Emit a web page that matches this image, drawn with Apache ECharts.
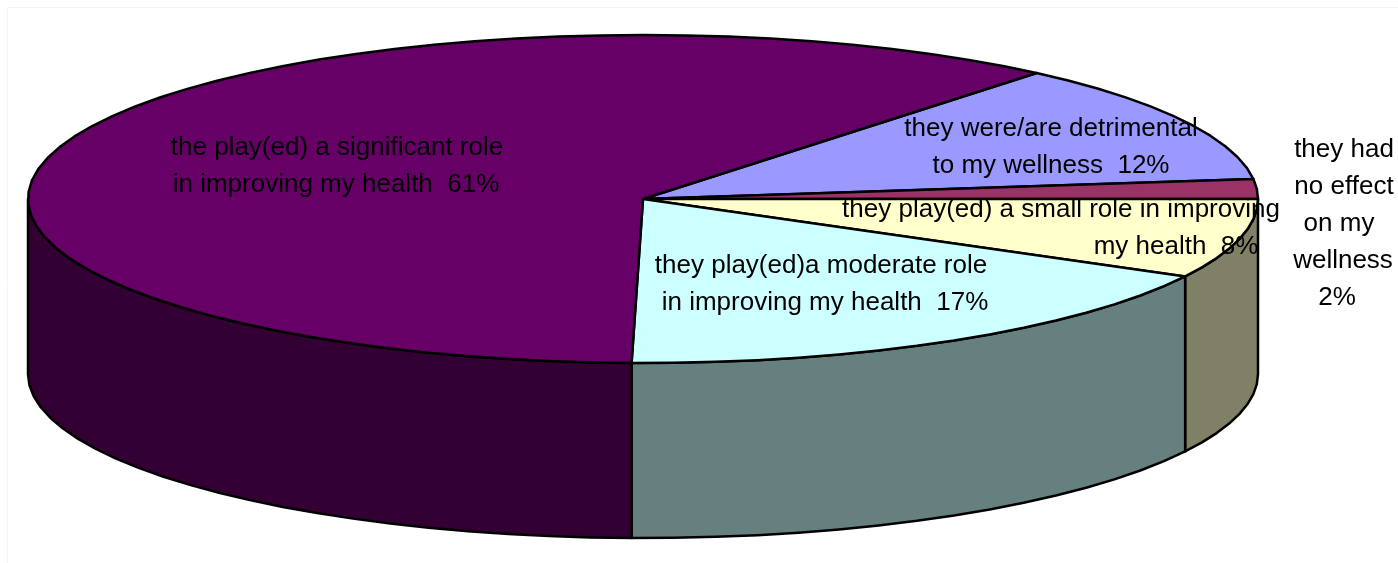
<!DOCTYPE html>
<html lang="en">
<head>
	<meta charset="UTF-8">
	<title>Role in wellness</title>
	<style>
		html, body { margin: 0; padding: 0; background: #fff; }
	</style>
</head>
<body>
	<div id="main" style="width: 1398px;height:563px;"></div>
	<script src="https://cdn.jsdelivr.net/npm/echarts@6/dist/echarts.min.js"></script>
	<script>
		// slices, clockwise from the upper right edge of the disc
		var categories = [
			"they were/are detrimental\nto my wellness  12%",
			"they had\nno effect\non my\nwellness\n2%",
			"they play(ed) a small role in improving\nmy health  8%",
			"they play(ed)a moderate role\nin improving my health  17%",
			"the play(ed) a significant role\nin improving my health  61%"
		];
		// percentages
		var shares = [12.0, 1.94, 7.83, 17.47, 60.76];
		var topColors = ["#9999FF", "#993366", "#FFFFCC", "#CCFFFF", "#660066"];
		var sideColors = ["#4D4D80", "#4D1A33", "#808066", "#668080", "#330033"];

		// label lines are placed one by one, the source does not centre them all
		var labelX = [
			[1051, 1051],
			[1344, 1344, 1339, 1343, 1337],
			[1061, 1176],
			[821, 825],
			[337, 336]
		];
		var labelY = [129, 150, 210, 266, 148];
		var lineGap = 37;

		// disc geometry
		var cx = 643, cy = 199, rx = 615, ry = 164, depth = 175;
		var startAngle = 50.2;

		function toXY(deg, dy) {
			var r = deg * Math.PI / 180;
			return [cx + rx * Math.cos(r), cy - ry * Math.sin(r) + (dy || 0)];
		}

		function sliceRange(i) {
			var before = 0;
			for (var k = 0; k < i; k++) before += shares[k];
			var a1 = startAngle - before * 3.6;
			return [a1, a1 - shares[i] * 3.6];
		}

		// the original outline is faceted, so keep the arc steps coarse
		function arcPoints(from, to, dy) {
			var pts = [];
			var n = Math.max(1, Math.ceil(Math.abs(from - to) / 4));
			for (var j = 0; j <= n; j++) {
				pts.push(toXY(from + (to - from) * j / n, dy));
			}
			return pts;
		}

		function renderSide(params, api) {
			var range = sliceRange(params.dataIndex);
			// only the front half of the rim shows
			var hi = Math.min(range[0], 0);
			var lo = Math.max(range[1], -180);
			if (hi <= lo) return null;
			var pts = arcPoints(hi, lo, 0).concat(arcPoints(lo, hi, depth));
			return {
				type: 'polygon',
				shape: { points: pts },
				style: { fill: sideColors[params.dataIndex], stroke: '#000', lineWidth: 2.5, lineJoin: 'round' }
			};
		}

		function renderTop(params, api) {
			var range = sliceRange(params.dataIndex);
			var pts = [[cx, cy]].concat(arcPoints(range[0], range[1], 0));
			return {
				type: 'polygon',
				shape: { points: pts },
				style: { fill: topColors[params.dataIndex], stroke: '#000', lineWidth: 2.5, lineJoin: 'round' }
			};
		}

		function renderLabel(params, api) {
			var i = params.dataIndex;
			var lines = categories[i].split('\n');
			return {
				type: 'group',
				children: lines.map(function (line, n) {
					return {
						type: 'text',
						x: labelX[i][n],
						y: labelY[i] + n * lineGap,
						style: {
							text: line,
							fill: '#000',
							font: '26px "Liberation Sans", Arial, sans-serif',
							align: 'center',
							verticalAlign: 'middle'
						}
					};
				})
			};
		}

		var myChart = echarts.init(document.getElementById('main'), null, { renderer: 'canvas' });
		var option = {
			backgroundColor: '#fff',
			animation: false,
			tooltip: { show: false },
			graphic: [{
				type: 'rect',
				silent: true,
				shape: { x: 7.5, y: 7.5, width: 1400, height: 1000 },
				style: { fill: 'none', stroke: '#f4f4f4', lineWidth: 1 }
			}],
			series: [
				{ type: 'custom', coordinateSystem: 'none', z: 2, silent: true, data: shares, renderItem: renderSide },
				{ type: 'custom', coordinateSystem: 'none', z: 3, silent: true, data: shares, renderItem: renderTop },
				{ type: 'custom', coordinateSystem: 'none', z: 4, silent: true, data: shares, renderItem: renderLabel }
			]
		};
		myChart.setOption(option);
	</script>
</body>
</html>
